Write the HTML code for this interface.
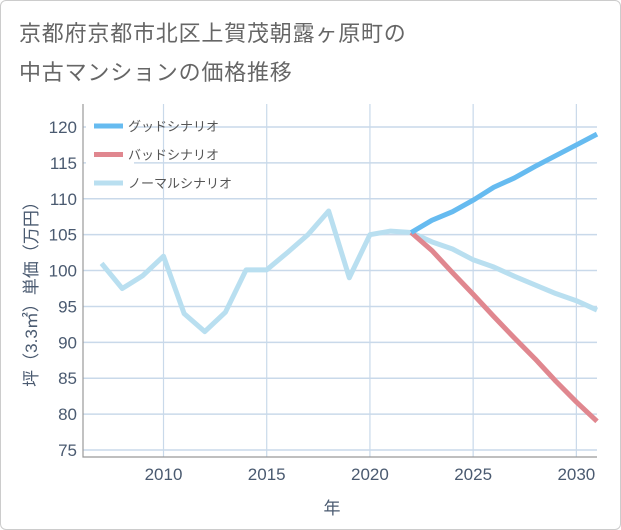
<!DOCTYPE html>
<html><head><meta charset="utf-8"><style>
body{margin:0;background:#fff;}
#wrap{position:relative;width:619px;height:528px;border:1px solid #ccc;border-radius:6px;background:#fff;overflow:hidden;font-family:"Liberation Sans","Noto Sans CJK JP",sans-serif;}
#title{position:absolute;left:18px;top:13px;font-size:22px;line-height:39px;color:#666;letter-spacing:0.8px;}
</style></head><body>
<div id="wrap">
<div id="title">京都府京都市北区上賀茂朝露ヶ原町の<br>中古マンションの価格推移</div>
<svg id="chart" width="621" height="530" style="position:absolute;left:-1px;top:-1px"></svg>
</div>
<script>
const years=[2007,2008,2009,2010,2011,2012,2013,2014,2015,2016,2017,2018,2019,2020,2021,2022,2023,2024,2025,2026,2027,2028,2029,2030,2031];
const normal=[101,97.5,99.3,102,94,91.5,94.2,100.1,100.1,102.5,105,108.3,99,105,105.5,105.3,104,103,101.5,100.5,99.2,98,96.8,95.8,94.5];
const goodYears=[2022,2023,2024,2025,2026,2027,2028,2029,2030,2031];
const good=[105.3,107,108.2,109.8,111.6,112.9,114.5,116,117.5,119];
const bad=[105.3,102.8,99.7,96.7,93.6,90.6,87.7,84.6,81.7,79];
const yTicks=[75,80,85,90,95,100,105,110,115,120];
const xTicks=[2010,2015,2020,2025,2030];
const L=83,R=597,T=104,B=457;
const xMin=2006.1,xMax=2031,yMin=74.03,yMax=123.2;
const X=v=>L+(v-xMin)/(xMax-xMin)*(R-L);
const Y=v=>B-(v-yMin)/(yMax-yMin)*(B-T);
const svg=document.getElementById('chart');
const NS='http://www.w3.org/2000/svg';
function mk(tag,attrs,parent){const e=document.createElementNS(NS,tag);for(const k in attrs)e.setAttribute(k,attrs[k]);(parent||svg).appendChild(e);return e;}
for(const t of yTicks){
 const g=mk('line',{x1:L,x2:R,y1:Y(t),y2:Y(t),stroke:'#c9d9ea','stroke-width':1.5});
 
 
 const tx=mk('text',{x:L-6,y:Y(t)+6,'text-anchor':'end','font-size':17,fill:'#4a5a70'});
 tx.textContent=t;
 
 
}
for(const t of xTicks){
 const g=mk('line',{x1:X(t),x2:X(t),y1:T,y2:B,stroke:'#c9d9ea','stroke-width':1.2});
 
 
 const tx=mk('text',{x:X(t),y:B+23,'text-anchor':'middle','font-size':17,fill:'#4a5a70'});
 tx.textContent=t;
 
 
}
const ax=mk('path',{d:`M${L} ${T} V${B} H${R}`,stroke:'#999',fill:'none','stroke-width':1.2});


function line(xs,ys,color,name){
 const p=mk('polyline',{points:xs.map((x,i)=>X(x)+','+Y(ys[i])).join(' '),fill:'none',stroke:color,'stroke-width':5,'stroke-linejoin':'round'});
 
 
}
const lb=mk('rect',{x:86,y:110,width:48,height:88,fill:'#fff'});


line(years,normal,'#b9dff0','normal-scenario-line');
line(goodYears,bad,'#e0878f','bad-scenario-line');
line(goodYears,good,'#66bbf0','good-scenario-line');
const leg=[['グッドシナリオ','#66bbf0'],['バッドシナリオ','#e0878f'],['ノーマルシナリオ','#b9dff0']];
leg.forEach((l,i)=>{
 const y=126+i*28.5;
 const s=mk('line',{x1:94,x2:123,y1:y,y2:y,stroke:l[1],'stroke-width':5});
 
 
 const t=mk('text',{x:128,y:y+5,'font-size':13,fill:'#555'});
 t.textContent=l[0];
 
 
});
const xt=mk('text',{x:332,y:514,'text-anchor':'middle','font-size':17,fill:'#4a5a70'});
xt.textContent='年';


const yt=mk('text',{x:0,y:0,'text-anchor':'middle','font-size':17,fill:'#4a5a70',transform:'translate(37,290) rotate(-90)'});
yt.textContent='坪（3.3㎡）単価（万円）';


</script>
</body></html>
